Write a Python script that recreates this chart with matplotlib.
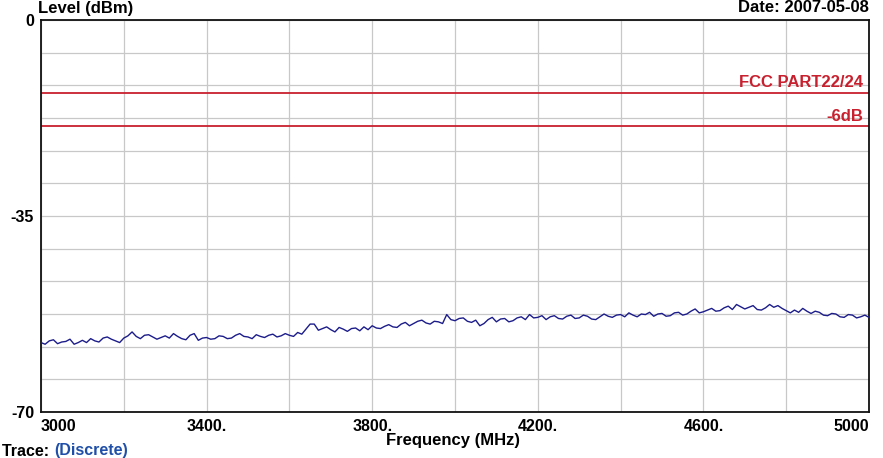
import numpy as np
import matplotlib
matplotlib.use('Agg')
import matplotlib.pyplot as plt

plt.rcParams['font.family'] = ['Liberation Sans', 'DejaVu Sans']

# Spectrum trace (10 MHz steps)
freq_mhz = np.arange(3000, 5001, 10)
level_dbm = [
    -57.6, -57.9, -57.3, -57.1, -57.8, -57.5, -57.4, -57.0, -57.9, -57.6,
    -57.2, -57.6, -56.9, -57.3, -57.5, -56.8, -56.6, -57.0, -57.3, -57.6,
    -56.8, -56.4, -55.7, -56.5, -56.9, -56.3, -56.2, -56.6, -57.0, -56.7,
    -56.4, -56.8, -56.0, -56.5, -56.9, -57.1, -56.3, -56.0, -57.2, -56.8,
    -56.7, -57.0, -56.9, -56.4, -56.5, -56.9, -56.8, -56.3, -56.0, -56.5,
    -56.6, -56.9, -56.2, -56.5, -56.7, -56.3, -56.1, -56.6, -56.4, -56.0,
    -56.3, -56.5, -55.8, -56.1, -55.2, -54.3, -54.3, -55.4, -55.1, -54.8,
    -55.3, -55.7, -54.9, -55.2, -55.6, -55.1, -55.0, -55.5, -54.8, -55.3,
    -54.6, -55.0, -55.1, -54.7, -54.4, -54.8, -54.9, -54.3, -54.0, -54.6,
    -54.2, -53.8, -53.6, -54.1, -54.3, -53.8, -53.9, -54.2, -52.6, -53.5,
    -53.7, -53.3, -53.2, -53.8, -54.0, -53.6, -54.6, -54.2, -53.5, -53.1,
    -53.9, -53.4, -53.3, -53.9, -53.7, -53.2, -53.0, -53.5, -52.6, -53.2,
    -53.1, -52.8, -53.5, -53.0, -52.8, -53.3, -53.4, -52.9, -52.7, -53.3,
    -53.2, -52.7, -52.9, -53.4, -53.5, -53.0, -52.5, -52.9, -53.1, -52.7,
    -52.6, -53.0, -52.3, -52.7, -53.0, -52.5, -52.6, -52.2, -52.9, -52.5,
    -52.4, -52.9, -52.8, -52.3, -52.2, -52.7, -52.5, -52.0, -51.6, -52.3,
    -52.1, -51.8, -51.5, -52.0, -51.9, -51.4, -51.1, -51.7, -50.8, -51.2,
    -51.6, -51.3, -51.0, -51.7, -51.8, -51.4, -50.8, -51.3, -51.0, -51.5,
    -51.9, -52.3, -51.8, -52.2, -51.5, -52.0, -52.4, -52.0, -52.2, -52.7,
    -52.8, -52.4, -52.5, -53.0, -53.1, -52.6, -52.7, -53.2, -53.0, -52.7,
    -53.1,
]

# Limit lines
limit_names = ['FCC PART22/24', '-6dB']
limit_levels = [-13, -19]

x_ticks = np.arange(3000, 5001, 200)
x_labels = ['3000', '', '3400.', '', '3800.', '', '4200.', '', '4600.', '', '5000']
y_ticks = np.linspace(-70, 0, 13)
y_labels = ['-70', '', '', '', '', '', '-35', '', '', '', '', '', '0']

red = '#c8202e'
navy = '#1c1c8a'

fig = plt.figure(figsize=(8.83, 4.58), dpi=100)
ax = fig.add_axes([41 / 883, 46 / 458, 828 / 883, 392 / 458])

ax.plot(freq_mhz, level_dbm, color=navy, lw=1.0, zorder=3)

for name, lvl in zip(limit_names, limit_levels):
    ax.axhline(lvl, color=red, lw=1.3, zorder=2)
    ax.text(4985, lvl + 0.5, name, color=red, fontsize=12, fontweight='bold',
            ha='right', va='bottom', zorder=4)

ax.set_xlim(3000, 5000)
ax.set_ylim(-70, 0)
ax.set_xticks(x_ticks)
ax.set_xticklabels(x_labels, fontsize=11.5, fontweight='bold')
ax.set_yticks(y_ticks)
ax.set_yticklabels(y_labels, fontsize=11.5, fontweight='bold')
ax.tick_params(length=0, pad=5)
ax.get_xticklabels()[0].set_ha('left')
ax.get_xticklabels()[-1].set_ha('right')
ax.grid(True, color='#c8c8c8', lw=0.9)
ax.set_axisbelow(True)
for s in ax.spines.values():
    s.set_color('#111111')
    s.set_linewidth(1.3)

fig.text(38 / 883, 1 - 8 / 458, 'Level (dBm)', fontsize=12, fontweight='bold',
         ha='left', va='center')
fig.text(869 / 883, 1 - 8 / 458, 'Date: 2007-05-08', fontsize=12, fontweight='bold',
         ha='right', va='center')
fig.text(453 / 883, 1 - 440 / 458, 'Frequency (MHz)', fontsize=12, fontweight='bold',
         ha='center', va='center')
fig.text(2 / 883, 1 - 451 / 458, 'Trace: ', fontsize=11.5, fontweight='bold',
         ha='left', va='center')
fig.text(54 / 883, 1 - 451 / 458, '(Discrete)', fontsize=11.5, fontweight='bold',
         color='#1f4fa8', ha='left', va='center')

fig.savefig('out.png', dpi=100)
